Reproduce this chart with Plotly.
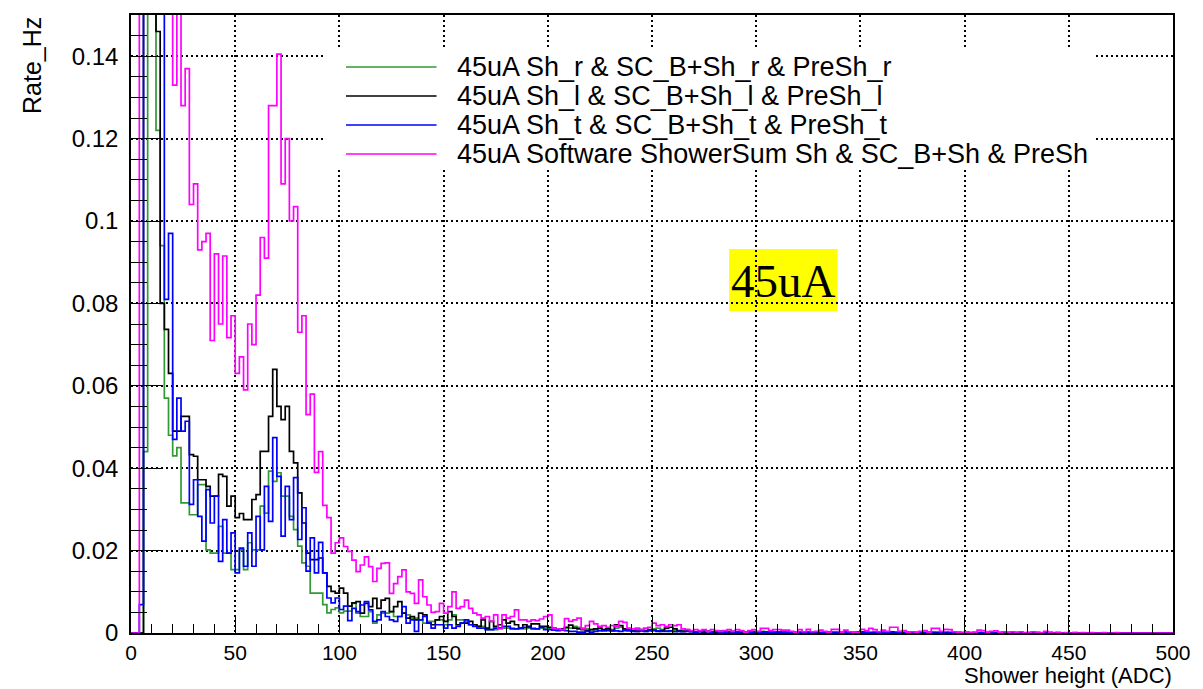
import numpy as np
import plotly.graph_objects as go

# ---------------- data (bin width 2 ADC, 0..500) ----------------
BIN_WIDTH = 2
X_MIN, X_MAX = 0, 500

green_low = [
    0, 0, 0, 0.044, 0.25, 0.2, 0.122, 0.094, 0.057, 0.048,
    0.043, 0.045, 0.0316, 0.0316, 0.0287, 0.0287, 0.036, 0.036, 0.0202, 0.0194,
    0.0194, 0.0259, 0.0194, 0.0194, 0.0154, 0.0154, 0.0202, 0.0154, 0.0219, 0.0202,
    0.0202, 0.0308, 0.0291, 0.0393, 0.0368, 0.0389, 0.0332, 0.0332, 0.0283, 0.0251,
    0.0211, 0.017, 0.0162, 0.0097, 0.0097, 0.0097, 0.0069, 0.0049, 0.0057, 0.0061,
    0.0049, 0.0053, 0.0053, 0.0072, 0.0048, 0.0040, 0.0040, 0.0052, 0.0024, 0.0044,
    0.0048, 0.0048, 0.0052, 0.0040, 0.0040, 0.0048, 0.0044, 0.0036, 0.0036, 0.0032,
    0.0024, 0.0028, 0.0028, 0.0032, 0.0032, 0.0020, 0.0032, 0.0044, 0.0032, 0.0032,
    0.0028, 0.0020, 0.0020, 0.0016, 0.0016, 0.0008, 0.0008, 0.0008, 0.0012, 0.0012,
    0.0012, 0.0012, 0.0010, 0.0010, 0.0010, 0.0012, 0.0012, 0.0010, 0.0012, 0.0012,
]
green_mid = [
    0.0012, 0.0010, 0.0008, 0.0008, 0.0012, 0.0012, 0.0016, 0.0014, 0.0012, 0.0010,
    0.0008, 0.0008, 0.0006, 0.0008, 0.0010, 0.0008, 0.0012, 0.0014, 0.0010, 0.0008,
    0.0006, 0.0008, 0.0006, 0.0004, 0.0006, 0.0010, 0.0012, 0.0008, 0.0006, 0.0004,
    0.0006, 0.0004, 0.0006, 0.0008, 0.0004, 0.0002, 0.0004, 0.0006, 0.0004, 0.0002,
    0.0004, 0.0004, 0.0002, 0.0004, 0.0002, 0.0002, 0.0004, 0.0002, 0.0002, 0.0004,
]
green_high = [
    0.0002, 0.0004, 0.0002, 0.0002, 0.0003, 0.0002, 0.0001, 0.0002, 0.0003, 0.0001,
    0.0002, 0.0002, 0.0001, 0.0003, 0.0002, 0.0001, 0.0002, 0.0001, 0.0002, 0.0002,
    0.0001, 0.0002, 0.0001, 0.0001, 0.0002, 0.0003, 0.0002, 0.0001, 0.0002, 0.0001,
    0.0002, 0.0001, 0.0003, 0.0002, 0.0001, 0.0001, 0.0002, 0.0001, 0.0001, 0.0002,
    0.0001, 0.0001, 0.0002, 0.0002, 0.0001, 0.0002, 0.0001, 0.0001, 0.0001, 0,
    0.0001, 0, 0.0001, 0.0001, 0, 0.0001, 0, 0.0001, 0, 0,
    0.0001, 0, 0, 0.0001, 0, 0, 0.0001, 0, 0, 0,
    0, 0.0001, 0, 0, 0, 0, 0.0001, 0, 0, 0,
    0, 0, 0, 0, 0, 0, 0, 0, 0, 0,
    0, 0, 0, 0, 0, 0, 0, 0, 0, 0,
]

black_low = [
    0, 0, 0, 0.3, 0.3, 0.25, 0.146, 0.080, 0.0737, 0.063,
    0.049, 0.049, 0.0526, 0.0526, 0.0433, 0.0429, 0.0372, 0.0372, 0.0356, 0.0332,
    0.0332, 0.0385, 0.038, 0.0308, 0.0332, 0.028, 0.029, 0.0275, 0.0275, 0.0324,
    0.0336, 0.0441, 0.0441, 0.0526, 0.064, 0.055, 0.0518, 0.055, 0.0441, 0.0413,
    0.034, 0.0267, 0.0194, 0.0178, 0.0178, 0.0182, 0.0146, 0.0113, 0.0101, 0.0097,
    0.0109, 0.0097, 0.0065, 0.0073, 0.0076, 0.0048, 0.0072, 0.0064, 0.0084, 0.0060,
    0.0080, 0.0084, 0.0052, 0.0064, 0.0076, 0.0048, 0.0036, 0.0040, 0.0032, 0.0048,
    0.0044, 0.0024, 0.0020, 0.0032, 0.0040, 0.0028, 0.0052, 0.0040, 0.0020, 0.0024,
    0.0024, 0.0028, 0.0020, 0.0016, 0.0032, 0.0012, 0.0028, 0.0016, 0.0020, 0.0032,
    0.0024, 0.0028, 0.0020, 0.0012, 0.0020, 0.0016, 0.0022, 0.0022, 0.0016, 0.0016,
]
black_mid = [
    0.0014, 0.0012, 0.0008, 0.0010, 0.0014, 0.0019, 0.0012, 0.0010, 0.0008, 0.0006,
    0.0008, 0.0010, 0.0012, 0.0008, 0.0010, 0.0006, 0.0020, 0.0018, 0.0010, 0.0008,
    0.0006, 0.0004, 0.0008, 0.0006, 0.0008, 0.0006, 0.0004, 0.0006, 0.0012, 0.0014,
    0.0010, 0.0006, 0.0004, 0.0006, 0.0004, 0.0002, 0.0004, 0.0002, 0.0004, 0.0002,
    0.0002, 0.0004, 0.0002, 0.0002, 0.0004, 0.0002, 0.0002, 0.0001, 0.0002, 0.0002,
]
black_high = [
    0.0002, 0.0001, 0.0002, 0.0002, 0.0001, 0.0001, 0.0002, 0.0001, 0.0002, 0.0001,
    0.0001, 0.0002, 0.0001, 0.0001, 0.0002, 0.0001, 0.0001, 0.0002, 0.0001, 0.0001,
    0.0001, 0.0002, 0.0001, 0.0001, 0.0001, 0.0002, 0.0001, 0.0001, 0.0001, 0.0001,
    0.0001, 0.0001, 0.0002, 0.0001, 0.0001, 0.0001, 0.0001, 0.0001, 0.0001, 0.0001,
    0.0001, 0.0001, 0.0001, 0.0001, 0.0001, 0.0001, 0.0001, 0, 0.0001, 0,
    0.0001, 0, 0, 0.0001, 0, 0.0001, 0, 0, 0.0001, 0,
    0, 0.0001, 0, 0, 0, 0.0001, 0, 0, 0, 0,
    0, 0, 0.0001, 0, 0, 0, 0, 0, 0, 0,
    0, 0, 0, 0, 0, 0, 0, 0, 0, 0,
    0, 0, 0, 0, 0, 0, 0, 0, 0, 0,
]

blue_low = [
    0, 0, 0.0069, 0.3, 0.3, 0.28, 0.22, 0.17, 0.081, 0.097,
    0.047, 0.057, 0.049, 0.0514, 0.0312, 0.0372, 0.0283, 0.0223, 0.0348, 0.0267,
    0.0332, 0.0174, 0.0275, 0.0194, 0.0243, 0.0146, 0.0206, 0.0162, 0.0243, 0.0162,
    0.0283, 0.0202, 0.0356, 0.0271, 0.0474, 0.038, 0.0235, 0.0356, 0.0275, 0.0377,
    0.0227, 0.0304, 0.015, 0.0231, 0.0146, 0.022, 0.0146, 0.0085, 0.0073, 0.0085,
    0.0057, 0.0065, 0.0030, 0.0060, 0.0052, 0.0068, 0.0076, 0.0056, 0.0028, 0.0032,
    0.0052, 0.0040, 0.0032, 0.0028, 0.0040, 0.0064, 0.0024, 0.0032, 0.0004, 0.0032,
    0.0040, 0.0024, 0.0012, 0.0020, 0.0020, 0.0012, 0.0020, 0.0012, 0.0016, 0.0024,
    0.0032, 0.0020, 0.0016, 0.0012, 0.0012, 0.0008, 0.0008, 0.0012, 0.0012, 0.0016,
    0.0016, 0.0010, 0.0010, 0.0012, 0.0014, 0.0014, 0.0010, 0.0010, 0.0014, 0.0008,
]
blue_mid = [
    0.0008, 0.0007, 0.0006, 0.0007, 0.0006, 0.0004, 0.0004, 0.0002, 0.0002, 0.0004,
    0.0002, 0.0004, 0.0006, 0.0005, 0.0006, 0.0005, 0.0005, 0.0004, 0.0006, 0.0005,
    0.0004, 0.0004, 0.0005, 0.0004, 0.0006, 0.0007, 0.0005, 0.0004, 0.0004, 0.0005,
    0.0003, 0.0004, 0.0003, 0.0004, 0.0003, 0.0002, 0.0003, 0.0004, 0.0003, 0.0002,
    0.0003, 0.0002, 0.0002, 0.0003, 0.0002, 0.0002, 0.0003, 0.0002, 0.0002, 0.0003,
]
blue_high = [
    0.0002, 0.0002, 0.0001, 0.0002, 0.0001, 0.0002, 0.0001, 0.0001, 0.0002, 0.0001,
    0.0001, 0.0001, 0.0002, 0.0001, 0.0001, 0.0001, 0.0001, 0.0002, 0.0001, 0.0001,
    0.0001, 0.0001, 0.0001, 0.0001, 0.0002, 0.0001, 0.0001, 0.0001, 0.0001, 0.0001,
    0.0001, 0.0001, 0.0001, 0.0001, 0.0001, 0.0001, 0.0001, 0.0001, 0.0001, 0.0001,
    0.0001, 0.0001, 0.0001, 0, 0.0001, 0, 0.0001, 0, 0, 0.0001,
    0, 0.0001, 0, 0, 0.0001, 0, 0, 0, 0.0001, 0,
    0, 0, 0, 0.0001, 0, 0, 0, 0, 0, 0,
    0, 0, 0, 0, 0, 0, 0, 0, 0, 0,
    0, 0, 0, 0, 0, 0, 0, 0, 0, 0,
    0, 0, 0, 0, 0, 0, 0, 0, 0, 0,
]

magenta_low = [
    0, 0, 0.3, 0.35, 0.35, 0.3, 0.28, 0.25, 0.22, 0.2,
    0.133, 0.155, 0.128, 0.137, 0.104, 0.109, 0.093, 0.095, 0.097, 0.071,
    0.092, 0.075, 0.0915, 0.0717, 0.077, 0.063, 0.067, 0.059, 0.075, 0.070,
    0.082, 0.096, 0.091, 0.128, 0.128, 0.1405, 0.109, 0.120, 0.100, 0.1035,
    0.073, 0.077, 0.053, 0.058, 0.039, 0.044, 0.031, 0.028, 0.0194, 0.0219,
    0.0231, 0.021, 0.0198, 0.0177, 0.0149, 0.0165, 0.0185, 0.0161, 0.0125, 0.0157,
    0.0169, 0.0170, 0.0096, 0.012, 0.0137, 0.0153, 0.0100, 0.0096, 0.0072, 0.0129,
    0.0088, 0.0068, 0.005, 0.0052, 0.0072, 0.0048, 0.0064, 0.0100, 0.006, 0.0064,
    0.008, 0.006, 0.0048, 0.0044, 0.0036, 0.004, 0.0028, 0.0044, 0.0010, 0.0044,
    0.0036, 0.0040, 0.0056, 0.0032, 0.0032, 0.0028, 0.0032, 0.0030, 0.0034, 0.0040,
]
magenta_mid = [
    0.0044, 0.0012, 0.0010, 0.0008, 0.0035, 0.0028, 0.0032, 0.0036, 0.0010, 0.0018,
    0.0028, 0.0022, 0.0016, 0.0018, 0.0014, 0.0018, 0.0016, 0.0028, 0.0026, 0.0012,
    0.0010, 0.0012, 0.0008, 0.0012, 0.0014, 0.0024, 0.0018, 0.0020, 0.0016, 0.0020,
    0.0018, 0.0020, 0.0010, 0.0008, 0.0006, 0.0008, 0.0006, 0.0008, 0.0004, 0.0008,
    0.0006, 0.0004, 0.0006, 0.0008, 0.0004, 0.0008, 0.0006, 0.0002, 0.0006, 0.0008,
]
magenta_high = [
    0.0004, 0.0011, 0.0011, 0.0006, 0.0008, 0.0008, 0.0007, 0.0007, 0.0004, 0.0002,
    0.0008, 0.0003, 0.0009, 0.0003, 0.0004, 0.0007, 0.0004, 0.0002, 0.0009, 0.0009,
    0.0002, 0.0007, 0.0003, 0.0002, 0.0001, 0.0009, 0.0006, 0.0011, 0.0008, 0.0003,
    0.0007, 0.0004, 0.0014, 0.0014, 0.0004, 0.0006, 0.0002, 0.0003, 0.0001, 0.0004,
    0.0006, 0.0002, 0.0011, 0.0011, 0.0004, 0.0009, 0.0008, 0.0003, 0.0002, 0.0001,
    0.0002, 0.0001, 0.0002, 0.0007, 0.0006, 0.0002, 0.0004, 0.0005, 0.0001, 0.0003,
    0.0002, 0.0003, 0.0002, 0.0003, 0.0001, 0.0001, 0.0003, 0.0002, 0.0001, 0.0004,
    0.0002, 0, 0.0001, 0, 0.0001, 0, 0.0001, 0, 0.0001, 0,
    0.0001, 0, 0, 0.0001, 0, 0, 0.0001, 0, 0, 0,
    0, 0, 0, 0, 0, 0, 0, 0, 0, 0,
]

series_names = [
    "45uA Sh_r & SC_B+Sh_r & PreSh_r",
    "45uA Sh_l & SC_B+Sh_l & PreSh_l",
    "45uA Sh_t & SC_B+Sh_t & PreSh_t",
    "45uA Software ShowerSum Sh & SC_B+Sh & PreSh",
]
series_colors = ["#339933", "#000000", "#0000ff", "#ff00ff"]

y_tickvals = [0, 0.02, 0.04, 0.06, 0.08, 0.1, 0.12, 0.14]
y_ticktext = ["0", "0.02", "0.04", "0.06", "0.08", "0.1", "0.12", "0.14"]
x_tickvals = [0, 50, 100, 150, 200, 250, 300, 350, 400, 450, 500]
x_ticktext = ["0", "50", "100", "150", "200", "250", "300", "350", "400", "450", "500"]

series_values = [
    green_low + green_mid + green_high,
    black_low + black_mid + black_high,
    blue_low + blue_mid + blue_high,
    magenta_low + magenta_mid + magenta_high,
]

# ---------------- figure ----------------
W, H = 1203, 689
PL, PR, PT, PB = 131, 1178, 15, 633  # plot area in pixels
FONT = "Liberation Sans, Arial, Helvetica, sans-serif"

edges = np.arange(X_MIN, X_MAX + BIN_WIDTH, BIN_WIDTH)

fig = go.Figure()
for name, color, vals in zip(series_names, series_colors, series_values):
    assert len(vals) == len(edges) - 1, (name, len(vals))
    yv = list(vals) + [vals[-1]]
    fig.add_trace(go.Scatter(
        x=edges, y=yv, mode="lines", line=dict(shape="hv", color=color, width=1.7),
        name=name, showlegend=False, hoverinfo="skip",
    ))


def px_x(p):
    return (p - PL) / (PR - PL)


def px_y(p):
    return (PB - p) / (PB - PT)


axis_common = dict(
    showline=True, linecolor="black", linewidth=1.5, mirror=True,
    ticks="inside", tickcolor="black", tickwidth=1.2,
    showgrid=True, gridcolor="black", gridwidth=1.5, griddash="1.5px,3.5px",
    zeroline=False,
)

fig.update_xaxes(
    range=[X_MIN, X_MAX], tickvals=x_tickvals, ticktext=x_ticktext,
    ticklen=18, ticklabelstandoff=0,
    tickfont=dict(family=FONT, size=21, color="black"),
    minor=dict(ticks="inside", ticklen=9, dtick=10, tick0=0, tickcolor="black",
               tickwidth=1.2, showgrid=False),
    **axis_common,
)
fig.update_yaxes(
    range=[0, 0.15], tickvals=y_tickvals, ticktext=y_ticktext,
    ticklen=31, ticklabelstandoff=6,
    tickfont=dict(family=FONT, size=24, color="black"),
    minor=dict(ticks="inside", ticklen=16, dtick=0.005, tick0=0, tickcolor="black",
               tickwidth=1.2, showgrid=False),
    **axis_common,
)

annotations = [
    dict(text="Shower height (ADC)", x=1, y=px_y(689), xref="paper", yref="paper",
         xanchor="right", yanchor="bottom", borderpad=0, showarrow=False,
         font=dict(family=FONT, size=22, color="black")),
    dict(text="Rate_Hz", x=px_x(31), y=1, xref="paper", yref="paper",
         xanchor="center", yanchor="top", textangle=-90, showarrow=False,
         font=dict(family=FONT, size=25, color="black")),
    dict(text="45uA", x=px_x(787), y=px_y(281), xref="paper", yref="paper",
         xanchor="center", yanchor="middle", showarrow=False,
         font=dict(family="Liberation Serif, Times New Roman, serif", size=47, color="black")),
]
shapes = [
    dict(type="rect", xref="paper", yref="paper", x0=px_x(732), x1=px_x(841),
         y0=px_y(311), y1=px_y(249), fillcolor="#ffff00", line=dict(width=0), layer="below"),
    # white legend pane (covers the grid like the original legend box)
    dict(type="rect", xref="paper", yref="paper", x0=px_x(327), x1=px_x(1100),
         y0=px_y(170), y1=px_y(47), fillcolor="white", line=dict(width=0), layer="above"),
]

legend_rows = [67, 96, 125, 154]
for name, color, row in zip(series_names, series_colors, legend_rows):
    shapes.append(dict(type="line", xref="paper", yref="paper",
                       x0=px_x(347), x1=px_x(438), y0=px_y(row), y1=px_y(row),
                       line=dict(color=color, width=1.7), layer="above"))
    annotations.append(dict(text=name.replace("&", "&amp;"), x=px_x(457), y=px_y(row),
                            xref="paper", yref="paper", xanchor="left", yanchor="middle",
                            showarrow=False, font=dict(family=FONT, size=27, color="black")))

fig.update_layout(
    width=W, height=H, autosize=False,
    margin=dict(l=PL, r=W - PR, t=PT, b=H - PB, pad=0),
    paper_bgcolor="white", plot_bgcolor="white",
    showlegend=False,
    annotations=annotations, shapes=shapes,
)

fig.write_html("out.html")
